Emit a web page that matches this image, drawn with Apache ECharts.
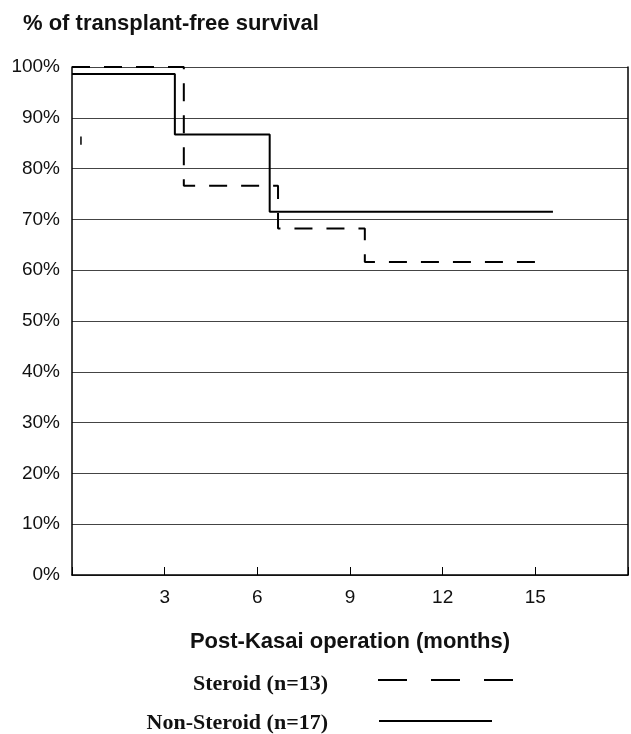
<!DOCTYPE html>
<html>
<head>
<meta charset="utf-8">
<script src="https://cdn.jsdelivr.net/npm/echarts@6/dist/echarts.min.js"></script>
<style>html,body{margin:0;padding:0;background:#fff;}#c{width:631px;height:734px;}</style>
</head>
<body>
<div id="c"></div>
<script>
var xTicks = [3, 6, 9, 12, 15];
var steroidTimes = [0, 3.62, 6.67, 9.48, 15.2];
var steroidSurvival = [100, 76.6, 68.2, 61.6, 61.6];
var nonSteroidTimes = [0, 3.33, 6.4, 15.57];
var nonSteroidSurvival = [98.6, 86.7, 71.5, 71.5];
var markTimes = [0.29, 0.29];
var markValues = [86.3, 84.7];
var seriesNames = ['Steroid (n=13)', 'Non-Steroid (n=17)'];

function zip(a, b) { return a.map(function (v, i) { return [v, b[i]]; }); }

var chart = echarts.init(document.getElementById('c'), null, {renderer: 'canvas'});
var font = 'Liberation Sans, Arial, sans-serif';
var serif = 'Liberation Serif, Times New Roman, serif';
chart.setOption({
  animation: false,
  title: {
    text: '% of transplant-free survival',
    left: 18, top: 8,
    textStyle: {fontFamily: font, fontSize: 22, fontWeight: 'bold', color: '#111'}
  },
  grid: {left: 72, right: 3, top: 67, bottom: 159},
  xAxis: {
    type: 'value', min: 0, max: 18, interval: 3,
    name: 'Post-Kasai operation (months)', nameLocation: 'middle', nameGap: 56,
    nameTextStyle: {fontFamily: font, fontSize: 22, fontWeight: 'bold', color: '#111', verticalAlign: 'top'},
    axisLine: {show: true, lineStyle: {color: '#000', width: 1.5}},
    axisTick: {show: true, inside: true, length: 8, lineStyle: {color: '#000', width: 1}},
    axisLabel: {
      fontFamily: font, fontSize: 19, color: '#111', margin: 13,
      formatter: function (v) { return xTicks.indexOf(v) >= 0 ? String(v) : ''; }
    },
    splitLine: {show: false}
  },
  yAxis: [{
    type: 'value', min: 0, max: 100, interval: 10,
    axisLine: {show: true, lineStyle: {color: '#000', width: 1.5}},
    axisTick: {show: false},
    axisLabel: {fontFamily: font, fontSize: 19, color: '#111', margin: 12, formatter: '{value}%'},
    splitLine: {show: true, lineStyle: {color: '#444', width: 1}}
  }, {
    type: 'value', min: 0, max: 100, position: 'right',
    axisLine: {show: true, lineStyle: {color: '#000', width: 1.5}},
    axisTick: {show: false}, axisLabel: {show: false}, splitLine: {show: false}
  }],
  series: [{
    name: seriesNames[0], type: 'line', step: 'end', symbol: 'none',
    data: zip(steroidTimes, steroidSurvival),
    lineStyle: {color: '#000', width: 2, type: [18, 14]}
  }, {
    name: seriesNames[1], type: 'line', step: 'end', symbol: 'none',
    data: zip(nonSteroidTimes, nonSteroidSurvival),
    lineStyle: {color: '#000', width: 2, type: 'solid'}
  }, {
    name: 'mark', type: 'line', symbol: 'none',
    data: zip(markTimes, markValues),
    lineStyle: {color: '#000', width: 1.5}
  }],
  graphic: [
    {type: 'text', x: 328, y: 684, style: {text: seriesNames[0], align: 'right', verticalAlign: 'middle', font: 'bold 22px ' + serif, fill: '#111'}},
    {type: 'text', x: 328, y: 723, style: {text: seriesNames[1], align: 'right', verticalAlign: 'middle', font: 'bold 22px ' + serif, fill: '#111'}},
    {type: 'line', shape: {x1: 378, y1: 680, x2: 514, y2: 680}, style: {stroke: '#000', lineWidth: 2, lineDash: [29, 24]}},
    {type: 'line', shape: {x1: 379, y1: 721, x2: 492, y2: 721}, style: {stroke: '#000', lineWidth: 2}}
  ]
});
</script>
</body>
</html>
